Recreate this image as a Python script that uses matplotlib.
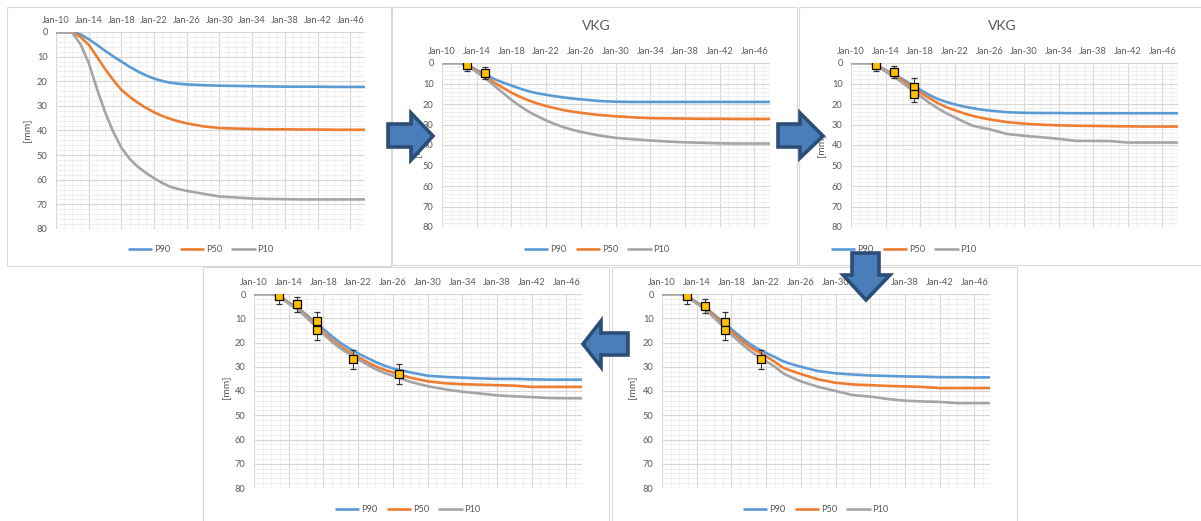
import matplotlib
matplotlib.use('Agg')
import matplotlib.pyplot as plt
from matplotlib.patches import Polygon, Rectangle
from matplotlib.ticker import MultipleLocator

plt.rcParams['font.family'] = ['Lato', 'DejaVu Sans']

W, H = 1201, 521

# common time axis (years)
years = [2010, 2012, 2013, 2014, 2015, 2016, 2017, 2018, 2019, 2020, 2021, 2022, 2023,
         2024, 2025, 2026, 2028, 2030, 2032, 2034, 2036, 2038, 2040, 2042, 2044, 2046, 2047.8]
tick_years = [2010, 2014, 2018, 2022, 2026, 2030, 2034, 2038, 2042, 2046]
tick_labels = ['Jan-10', 'Jan-14', 'Jan-18', 'Jan-22', 'Jan-26', 'Jan-30', 'Jan-34',
               'Jan-38', 'Jan-42', 'Jan-46']

# panel 1 - prior forecast
p90_a = [0, 0, 1.0, 2.9, 5.2, 7.6, 9.9, 12, 14.1, 16, 17.6, 18.9, 19.9, 20.6, 21.0, 21.3,
         21.6, 21.8, 21.9, 22.0, 22.1, 22.2, 22.2, 22.2, 22.3, 22.3, 22.3]
p50_a = [0, 0, 2.0, 5.2, 10, 15, 19.5, 23.5, 26.3, 28.7, 30.8, 32.6, 34.1, 35.3, 36.3, 37.1,
         38.3, 39, 39.2, 39.4, 39.5, 39.5, 39.6, 39.6, 39.7, 39.7, 39.7]
p10_a = [0, 0.3, 5, 12.5, 23, 32.5, 40.5, 47, 51.5, 54.7, 57.2, 59.4, 61.3, 62.9, 63.8, 64.5,
         65.7, 66.8, 67.2, 67.6, 67.8, 67.9, 68, 68, 68, 68, 68]

# panel 2 - VKG, 2 observations
p90_b = [0, 0, 1, 3.5, 5.5, 7.8, 9.5, 11, 12.5, 13.8, 14.8, 15.5, 16.2, 16.8, 17.3, 17.7,
         18.5, 18.9, 19, 19, 19, 19, 19, 19, 19, 19, 19]
p50_b = [0, 0, 1.2, 4, 6.5, 9.5, 12, 14.5, 16.5, 18.3, 19.8, 21, 22, 23, 23.7, 24.3,
         25.3, 26, 26.5, 26.9, 27, 27.1, 27.2, 27.2, 27.3, 27.3, 27.3]
p10_b = [0, 0, 1.5, 4.5, 7.5, 11, 14.5, 18, 21, 23.8, 26, 28, 29.8, 31.3, 32.6, 33.6,
         35.3, 36.5, 37.2, 37.8, 38.3, 38.7, 38.9, 39.2, 39.3, 39.3, 39.3]
obs_x_b = [2012.9, 2015.0]
obs_y_b = [1, 4.8]
obs_e_b = [3, 3]

# panel 3 - VKG, 4 observations
p90_c = [0, 0, 1, 3.5, 5.5, 8, 10.5, 13, 15.5, 17.5, 19, 20.2, 21.2, 22, 22.7, 23.2,
         24, 24.3, 24.4, 24.4, 24.5, 24.5, 24.5, 24.5, 24.5, 24.5, 24.5]
p50_c = [0, 0, 1, 3.8, 6, 8.7, 11.5, 14.3, 17, 19.5, 21.5, 23, 24.5, 25.7, 26.7, 27.5,
         28.8, 29.6, 30.1, 30.4, 30.6, 30.7, 30.8, 30.9, 31, 31, 31]
p10_c = [0, 0, 1.2, 4.2, 6.8, 9.8, 13, 16, 19.3, 22, 24.5, 26.5, 28.6, 30.5, 31.5, 32.3,
         34.6, 35.5, 36.2, 37, 38, 38, 38.1, 38.8, 38.8, 38.8, 38.8]
obs_x_c = [2012.9, 2015.0, 2017.3, 2017.3]
obs_y_c = [1, 4.5, 11.5, 15]
obs_e_c = [3, 3, 4, 4]

# panel 5 (bottom right) - 5 observations
p90_d = [0, 0, 1, 3.5, 5.5, 8.5, 11.5, 14.5, 17.5, 20.3, 22.5, 24.3, 26, 27.8, 29, 30,
         31.8, 32.7, 33.2, 33.6, 33.8, 34, 34.1, 34.3, 34.3, 34.4, 34.4]
p50_d = [0, 0, 1, 3.7, 5.8, 9, 12.2, 15.5, 18.7, 21.5, 23.7, 25.7, 28, 30.5, 31.8, 33,
         35.2, 36.6, 37.3, 37.6, 37.9, 38.1, 38.3, 38.8, 38.8, 38.8, 38.8]
p10_d = [0, 0, 1.2, 4, 6.3, 9.8, 13.2, 16.8, 20, 23, 25.5, 27.7, 30, 32.8, 34.5, 36,
         38.3, 40, 41.7, 42.3, 43.3, 44, 44.3, 44.5, 45, 45, 45]
obs_x_d = [2012.9, 2015.0, 2017.3, 2017.3, 2021.4]
obs_y_d = [1, 5, 11.5, 15, 27]
obs_e_d = [3, 3, 4, 4, 4]

# panel 4 (bottom left) - 6 observations
p90_e = [0, 0, 1, 3.5, 5.5, 8.5, 11.5, 14.5, 17.5, 20.3, 22.5, 24.5, 26.3, 28, 29.5, 30.7,
         32.3, 33.7, 34.2, 34.5, 34.8, 35, 35, 35.2, 35.3, 35.3, 35.3]
p50_e = [0, 0, 1, 3.7, 5.8, 9, 12.5, 15.8, 19, 21.7, 24, 26, 28, 29.8, 31.2, 32.3,
         34.5, 36, 36.8, 37.2, 37.4, 37.6, 37.8, 38.3, 38.3, 38.3, 38.3]
p10_e = [0, 0, 1.2, 4, 6.3, 9.5, 13, 16.5, 19.8, 22.5, 24.8, 27, 29, 31, 32.5, 33.7,
         36.2, 38, 39.3, 40.3, 41, 41.8, 42.2, 42.5, 42.9, 43, 43]
obs_x_e = [2012.9, 2015.0, 2017.3, 2017.3, 2021.4, 2026.7]
obs_y_e = [1, 4.3, 11.3, 15, 27, 33]
obs_e_e = [3, 3, 4, 4, 4, 4]

C90, C50, C10 = '#5B9BD5', '#ED7D31', '#A5A5A5'
TXT = '#595959'


def px_box(l, t, r, b):
    return [l / W, 1 - b / H, (r - l) / W, (b - t) / H]


def fig_pt(x, y):
    return (x / W, 1 - y / H)


def draw_panel(fig, box, p90, p50, p10, obs=None, title=None, title_xy=None,
               ylab_xy=None, leg_xy=None):
    ax = fig.add_axes(px_box(*box))
    ax.plot(years, p90, color=C90, lw=1.9, label='P90', solid_capstyle='butt')
    ax.plot(years, p50, color=C50, lw=1.9, label='P50', solid_capstyle='butt')
    ax.plot(years, p10, color=C10, lw=1.9, label='P10', solid_capstyle='butt')
    if obs is not None:
        ox, oy, oe = obs
        ax.errorbar(ox, oy, yerr=oe, fmt='s', ms=6, mfc='#FFC000', mec='black', mew=0.9,
                    ecolor='#333333', elinewidth=0.7, capsize=2, capthick=0.7, zorder=5)
    ax.set_xlim(2010, 2047.8)
    ax.set_ylim(80, 0)
    ax.xaxis.tick_top()
    ax.set_xticks(tick_years)
    ax.set_xticklabels(tick_labels)
    ax.xaxis.set_minor_locator(MultipleLocator(1))
    ax.set_yticks(range(0, 81, 10))
    ax.yaxis.set_minor_locator(MultipleLocator(2))
    ax.tick_params(which='both', length=0, labelsize=6.7, colors=TXT)
    ax.tick_params(axis='x', pad=5)
    ax.tick_params(axis='y', pad=6)
    ax.grid(which='major', color='#d6d6d6', lw=0.8)
    ax.grid(which='minor', color='#ececec', lw=0.6)
    ax.set_axisbelow(True)
    for s in ax.spines.values():
        s.set_visible(False)
    ax.legend(loc='center', bbox_to_anchor=fig_pt(*leg_xy), bbox_transform=fig.transFigure,
              ncol=3, frameon=False, fontsize=6.7, handlelength=2.6, columnspacing=1.0,
              handletextpad=0.2, labelcolor=TXT)
    if title:
        fig.text(*fig_pt(*title_xy), title, ha='center', va='center', fontsize=10, color=TXT)
    fig.text(*fig_pt(*ylab_xy), '[mm]', rotation=90, ha='center', va='center',
             fontsize=7.5, color=TXT)
    return ax


def arrow(fig, pts):
    poly = Polygon([fig_pt(x, y) for x, y in pts], closed=True, transform=fig.transFigure,
                   fc='#4A7EBB', ec='#2C4D75', lw=2.6, joinstyle='miter', zorder=10)
    fig.add_artist(poly)


fig = plt.figure(figsize=(W / 100, H / 100), dpi=100)
fig.patch.set_facecolor('white')

# panel frames
for l, t, r, b in [(7, 7, 391, 266), (392, 7, 797, 265), (799, 7, 1210, 265),
                   (203, 267, 609, 530), (612, 267, 1017, 530)]:
    fig.add_artist(Rectangle(fig_pt(l, b), (r - l) / W, (b - t) / H, transform=fig.transFigure,
                             fill=False, ec='#d9d9d9', lw=0.8, zorder=-1))

draw_panel(fig, (56, 32, 365, 229), p90_a, p50_a, p10_a,
           ylab_xy=(28, 130), leg_xy=(201, 250))
draw_panel(fig, (442, 63, 770, 227), p90_b, p50_b, p10_b, (obs_x_b, obs_y_b, obs_e_b),
           title='VKG', title_xy=(596, 26), ylab_xy=(418, 145), leg_xy=(597, 250))
draw_panel(fig, (851, 63, 1178, 227), p90_c, p50_c, p10_c, (obs_x_c, obs_y_c, obs_e_c),
           title='VKG', title_xy=(1002, 26), ylab_xy=(822, 145), leg_xy=(904, 250))
draw_panel(fig, (254, 294, 582, 488), p90_e, p50_e, p10_e, (obs_x_e, obs_y_e, obs_e_e),
           ylab_xy=(227, 387), leg_xy=(408, 510))
draw_panel(fig, (662, 294, 990, 488), p90_d, p50_d, p10_d, (obs_x_d, obs_y_d, obs_e_d),
           ylab_xy=(633, 387), leg_xy=(816, 510))

# block arrows between panels
arrow(fig, [(388, 124), (411, 124), (411, 113), (433, 136), (411, 160), (411, 147), (388, 147)])
arrow(fig, [(778, 124), (800, 124), (800, 113), (823, 136), (800, 158), (800, 147), (778, 147)])
arrow(fig, [(852, 253), (879, 253), (879, 275), (890, 275), (866, 300), (843, 275), (852, 275)])
arrow(fig, [(628, 333), (601, 333), (601, 321), (583, 344), (601, 367), (601, 355), (628, 355)])

fig.savefig('out.png', dpi=100)
